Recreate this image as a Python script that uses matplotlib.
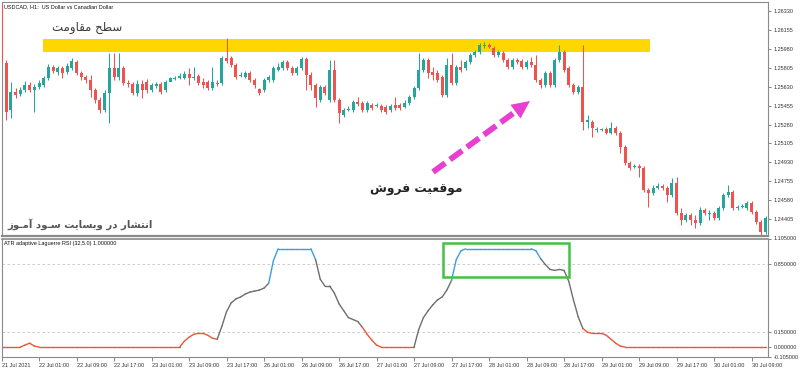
import numpy as np
import matplotlib
matplotlib.use("Agg")
import matplotlib.pyplot as plt
from matplotlib.collections import LineCollection
from matplotlib.patches import Rectangle, Polygon
from matplotlib.lines import Line2D
from matplotlib import font_manager
from matplotlib.ft2font import FT2Font

# ---------------- data ----------------
opens = [1.26386,
 1.25849, 1.25414, 1.25581, 1.25562, 1.25599, 1.25646, 1.25599, 1.25627, 1.25646, 1.25710,
 1.25812, 1.25766, 1.25803, 1.25766, 1.25803, 1.25858, 1.25757, 1.25720, 1.25692, 1.25599,
 1.25507, 1.25414, 1.25572, 1.25803, 1.25720, 1.25803, 1.25664, 1.25655, 1.25572, 1.25655,
 1.25673, 1.25599, 1.25636, 1.25655, 1.25599, 1.25673, 1.25701, 1.25710, 1.25710, 1.25747,
 1.25710, 1.25729, 1.25673, 1.25673, 1.25618, 1.25664, 1.25664, 1.25895, 1.25895, 1.25831,
 1.25729, 1.25720, 1.25757, 1.25692, 1.25609, 1.25599, 1.25692, 1.25692, 1.25784, 1.25803,
 1.25858, 1.25803, 1.25757, 1.25803, 1.25886, 1.25738, 1.25646, 1.25507, 1.25627, 1.25507,
 1.25784, 1.25507, 1.25368, 1.25414, 1.25414, 1.25488, 1.25479, 1.25414, 1.25461, 1.25451,
 1.25451, 1.25442, 1.25414, 1.25461, 1.25461, 1.25442, 1.25479, 1.25535, 1.25618, 1.25784,
 1.25877, 1.25766, 1.25757, 1.25720, 1.25553, 1.25831, 1.25664, 1.25812, 1.25803, 1.25858,
 1.25923, 1.25951, 1.26006, 1.26016, 1.25988, 1.25923, 1.25942, 1.25877, 1.25812, 1.25877,
 1.25868, 1.25812, 1.25858, 1.25831, 1.25692, 1.25646, 1.25757, 1.25646, 1.25877, 1.25951,
 1.25803, 1.25646, 1.25581, 1.25627, 1.25303, 1.25303, 1.25229, 1.25229, 1.25239, 1.25202,
 1.25248, 1.25202, 1.25073, 1.24926, 1.24887, 1.24896, 1.24878, 1.24674, 1.24647, 1.24693,
 1.24711, 1.24693, 1.24628, 1.24739, 1.24462, 1.24397, 1.24443, 1.24397, 1.24369, 1.24489,
 1.24452, 1.24462, 1.24415, 1.24508, 1.24628, 1.24656, 1.24508, 1.24517, 1.24508, 1.24554,
 1.24471, 1.24378, 1.24286]

closes = [1.25858,
 1.25396, 1.25581, 1.25553, 1.25599, 1.25646, 1.25599, 1.25627, 1.25664, 1.25710, 1.25812,
 1.25775, 1.25803, 1.25757, 1.25821, 1.25868, 1.25757, 1.25720, 1.25692, 1.25599, 1.25507,
 1.25414, 1.25572, 1.25803, 1.25720, 1.25803, 1.25664, 1.25655, 1.25572, 1.25655, 1.25599,
 1.25599, 1.25646, 1.25655, 1.25581, 1.25673, 1.25710, 1.25710, 1.25729, 1.25747, 1.25710,
 1.25720, 1.25664, 1.25646, 1.25618, 1.25673, 1.25655, 1.25895, 1.25868, 1.25831, 1.25720,
 1.25738, 1.25757, 1.25692, 1.25646, 1.25572, 1.25692, 1.25720, 1.25803, 1.25812, 1.25858,
 1.25803, 1.25757, 1.25803, 1.25886, 1.25738, 1.25646, 1.25525, 1.25627, 1.25572, 1.25784,
 1.25507, 1.25387, 1.25414, 1.25424, 1.25488, 1.25470, 1.25414, 1.25479, 1.25433, 1.25461,
 1.25414, 1.25396, 1.25451, 1.25433, 1.25433, 1.25479, 1.25535, 1.25618, 1.25784, 1.25877,
 1.25757, 1.25738, 1.25692, 1.25553, 1.25831, 1.25664, 1.25812, 1.25784, 1.25858, 1.25923,
 1.25951, 1.26016, 1.26016, 1.25997, 1.25923, 1.25951, 1.25877, 1.25812, 1.25877, 1.25858,
 1.25812, 1.25858, 1.25831, 1.25692, 1.25646, 1.25757, 1.25646, 1.25877, 1.25951, 1.25784,
 1.25646, 1.25581, 1.25627, 1.25303, 1.25322, 1.25248, 1.25239, 1.25239, 1.25202, 1.25248,
 1.25202, 1.25073, 1.24926, 1.24878, 1.24896, 1.24878, 1.24674, 1.24647, 1.24693, 1.24711,
 1.24693, 1.24628, 1.24739, 1.24462, 1.24397, 1.24443, 1.24397, 1.24369, 1.24489, 1.24462,
 1.24462, 1.24415, 1.24508, 1.24628, 1.24656, 1.24508, 1.24517, 1.24526, 1.24554, 1.24471,
 1.24378, 1.24286, 1.24415]

highs = [1.26413,
 1.25877, 1.25673, 1.25618, 1.25627, 1.25683, 1.25673, 1.25655, 1.25692, 1.25729, 1.25840,
 1.25831, 1.25821, 1.25821, 1.25849, 1.25895, 1.25877, 1.25775, 1.25738, 1.25738, 1.25618,
 1.25535, 1.25599, 1.25942, 1.25942, 1.25942, 1.25821, 1.25692, 1.25673, 1.25692, 1.25692,
 1.25701, 1.25664, 1.25673, 1.25673, 1.25692, 1.25720, 1.25729, 1.25757, 1.25775, 1.25803,
 1.25812, 1.25747, 1.25710, 1.25692, 1.25812, 1.25692, 1.25914, 1.26080, 1.25914, 1.25849,
 1.25766, 1.25775, 1.25775, 1.25710, 1.25618, 1.25710, 1.25738, 1.25821, 1.25849, 1.25877,
 1.25877, 1.25821, 1.25821, 1.25905, 1.25905, 1.25766, 1.25664, 1.25646, 1.25646, 1.25877,
 1.25877, 1.25525, 1.25433, 1.25451, 1.25507, 1.25535, 1.25498, 1.25498, 1.25479, 1.25479,
 1.25470, 1.25461, 1.25470, 1.25535, 1.25479, 1.25507, 1.25553, 1.25636, 1.25942, 1.25895,
 1.25895, 1.25812, 1.25784, 1.25738, 1.25895, 1.25942, 1.25831, 1.25877, 1.25877, 1.25942,
 1.25969, 1.26034, 1.26043, 1.26034, 1.26006, 1.25969, 1.25960, 1.25895, 1.25895, 1.25895,
 1.25886, 1.25877, 1.25905, 1.25923, 1.25710, 1.25775, 1.25775, 1.25895, 1.26016, 1.25969,
 1.25821, 1.25664, 1.25646, 1.26016, 1.25368, 1.25322, 1.25257, 1.25248, 1.25257, 1.25303,
 1.25266, 1.25220, 1.25091, 1.24944, 1.24915, 1.24915, 1.24896, 1.24693, 1.24721, 1.24739,
 1.24730, 1.24711, 1.24785, 1.24794, 1.24508, 1.24462, 1.24462, 1.24443, 1.24517, 1.24508,
 1.24489, 1.24480, 1.24526, 1.24647, 1.24721, 1.24674, 1.24536, 1.24545, 1.24573, 1.24573,
 1.24489, 1.24397, 1.24434]

lows = [1.25840,
 1.25322, 1.25340, 1.25525, 1.25544, 1.25581, 1.25581, 1.25396, 1.25609, 1.25627, 1.25692,
 1.25757, 1.25738, 1.25710, 1.25747, 1.25784, 1.25738, 1.25692, 1.25664, 1.25535, 1.25479,
 1.25387, 1.25396, 1.25294, 1.25692, 1.25692, 1.25646, 1.25627, 1.25553, 1.25544, 1.25525,
 1.25572, 1.25581, 1.25618, 1.25562, 1.25581, 1.25692, 1.25692, 1.25701, 1.25701, 1.25646,
 1.25692, 1.25646, 1.25618, 1.25599, 1.25599, 1.25636, 1.25646, 1.25849, 1.25812, 1.25701,
 1.25720, 1.25710, 1.25673, 1.25618, 1.25553, 1.25581, 1.25673, 1.25673, 1.25775, 1.25784,
 1.25784, 1.25738, 1.25738, 1.25784, 1.25599, 1.25599, 1.25442, 1.25488, 1.25553, 1.25488,
 1.25488, 1.25294, 1.25350, 1.25405, 1.25396, 1.25451, 1.25396, 1.25396, 1.25414, 1.25442,
 1.25396, 1.25377, 1.25396, 1.25414, 1.25414, 1.25433, 1.25461, 1.25516, 1.25599, 1.25766,
 1.25710, 1.25692, 1.25673, 1.25535, 1.25535, 1.25646, 1.25646, 1.25766, 1.25784, 1.25840,
 1.25905, 1.25932, 1.25988, 1.25988, 1.25905, 1.25905, 1.25858, 1.25794, 1.25794, 1.25840,
 1.25794, 1.25794, 1.25812, 1.25673, 1.25618, 1.25627, 1.25627, 1.25627, 1.25858, 1.25766,
 1.25627, 1.25562, 1.25562, 1.25229, 1.25248, 1.25166, 1.25211, 1.25220, 1.25192, 1.25192,
 1.25183, 1.25017, 1.24906, 1.24859, 1.24878, 1.24794, 1.24656, 1.24517, 1.24628, 1.24684,
 1.24674, 1.24563, 1.24610, 1.24443, 1.24351, 1.24378, 1.24351, 1.24323, 1.24351, 1.24443,
 1.24397, 1.24397, 1.24397, 1.24489, 1.24610, 1.24489, 1.24489, 1.24508, 1.24489, 1.24452,
 1.24360, 1.24258, 1.24267]

rsi_values = [0.0,
 0.0, 0.0, 0.0, 0.0, 0.02, 0.04, 0.01, 0.0, 0.0, 0.0,
 0.0, 0.0, 0.0, 0.0, 0.0, 0.0, 0.0, 0.0, 0.0, 0.0,
 0.0, 0.0, 0.0, 0.0, 0.0, 0.0, 0.0, 0.0, 0.0, 0.0,
 0.0, 0.0, 0.0, 0.0, 0.0, 0.0, 0.0, 0.0, 0.06, 0.10,
 0.13, 0.14, 0.14, 0.12, 0.09, 0.08, 0.21, 0.36, 0.45, 0.49,
 0.51, 0.54, 0.56, 0.57, 0.58, 0.60, 0.65, 0.88, 1.0, 1.0,
 1.0, 1.0, 1.0, 1.0, 1.0, 1.0, 0.89, 0.69, 0.62, 0.62,
 0.55, 0.44, 0.37, 0.30, 0.28, 0.26, 0.20, 0.13, 0.07, 0.02,
 0.0, 0.0, 0.0, 0.0, 0.0, 0.0, 0.0, 0.0, 0.18, 0.30,
 0.37, 0.43, 0.48, 0.51, 0.58, 0.68, 0.89, 0.98, 1.0, 1.0,
 1.0, 1.0, 1.0, 1.0, 1.0, 1.0, 1.0, 1.0, 1.0, 1.0,
 1.0, 1.0, 1.0, 0.98, 0.90, 0.84, 0.79, 0.78, 0.79, 0.78,
 0.67, 0.48, 0.31, 0.19, 0.15, 0.14, 0.14, 0.14, 0.12, 0.08,
 0.04, 0.01, 0.0, 0.0, 0.0, 0.0, 0.0, 0.0, 0.0, 0.0,
 0.0, 0.0, 0.0, 0.0, 0.0, 0.0, 0.0, 0.0, 0.0, 0.0,
 0.0, 0.0, 0.0, 0.0, 0.0, 0.0, 0.0, 0.0, 0.0, 0.0,
 0.0, 0.0, 0.0]

time_labels = ['21 Jul 2021', '22 Jul 01:00', '22 Jul 09:00', '22 Jul 17:00', '23 Jul 01:00',
               '23 Jul 09:00', '23 Jul 17:00', '26 Jul 01:00', '26 Jul 09:00', '26 Jul 17:00',
               '27 Jul 01:00', '27 Jul 09:00', '27 Jul 17:00', '28 Jul 01:00', '28 Jul 09:00',
               '28 Jul 17:00', '29 Jul 01:00', '29 Jul 09:00', '29 Jul 17:00', '30 Jul 01:00',
               '30 Jul 09:00']
bars_per_label = 8
price_ticks = [1.26330, 1.26155, 1.25980, 1.25805, 1.25630, 1.25455, 1.25280,
               1.25105, 1.24930, 1.24755, 1.24580, 1.24405]
rsi_ticks = [1.105, 0.85, 0.15, 0.0, -0.105]
rsi_levels = [0.85, 0.15]
resistance_zone = (1.25950, 1.26071)
resistance_bars = (8.9, 138.3)
highlight_bars = (94.2, 121.0)
highlight_vals = (0.711, 1.056)

title = "USDCAD, H1:  US Dollar vs Canadian Dollar"
ind_title = "ATR adaptive Laguerre RSI (32,5.0) 1.000000"
txt_resist = "سطح مقاومت"
txt_sell = "موقعیت فروش"
txt_site = "انتشار در وبسایت سـود آمـوز"

# ---------------- Arabic shaping (no complex text layout in matplotlib) ----------------
ar_font = "DejaVu Sans"
ftf = FT2Font(font_manager.findfont(ar_font))
persian_yeh_ok = ftf.get_char_index(0xFBFE) != 0
yeh_forms = (0xFBFC, 0xFBFD, 0xFBFE, 0xFBFF) if persian_yeh_ok else (0xFEEF, 0xFEF0, 0xFEF3, 0xFEF4)
FORMS = {
    'ا': (0xFE8D, 0xFE8E), 'آ': (0xFE81, 0xFE82), 'د': (0xFEA9, 0xFEAA), 'ر': (0xFEAD, 0xFEAE),
    'ز': (0xFEAF, 0xFEB0), 'و': (0xFEED, 0xFEEE),
    'ب': (0xFE8F, 0xFE90, 0xFE91, 0xFE92), 'ت': (0xFE95, 0xFE96, 0xFE97, 0xFE98),
    'ح': (0xFEA1, 0xFEA2, 0xFEA3, 0xFEA4), 'س': (0xFEB1, 0xFEB2, 0xFEB3, 0xFEB4),
    'ش': (0xFEB5, 0xFEB6, 0xFEB7, 0xFEB8), 'ط': (0xFEC1, 0xFEC2, 0xFEC3, 0xFEC4),
    'ع': (0xFEC9, 0xFECA, 0xFECB, 0xFECC), 'ف': (0xFED1, 0xFED2, 0xFED3, 0xFED4),
    'ق': (0xFED5, 0xFED6, 0xFED7, 0xFED8), 'م': (0xFEE1, 0xFEE2, 0xFEE3, 0xFEE4),
    'ن': (0xFEE5, 0xFEE6, 0xFEE7, 0xFEE8), 'ی': yeh_forms,
    'ـ': (0x640, 0x640, 0x640, 0x640),
}


def shape(text):
    out = []
    n = len(text)
    dual = lambda ch: ch in FORMS and len(FORMS[ch]) == 4
    for i, ch in enumerate(text):
        if ch not in FORMS:
            out.append(ch)
            continue
        f = FORMS[ch]
        prev = text[i - 1] if i > 0 else ''
        nxt = text[i + 1] if i < n - 1 else ''
        cp = dual(prev)
        cn = len(f) == 4 and nxt in FORMS
        if len(f) == 2:
            g = f[1] if cp else f[0]
        elif cp and cn:
            g = f[3]
        elif cp:
            g = f[1]
        elif cn:
            g = f[2]
        else:
            g = f[0]
        out.append(chr(g))
    return ''.join(reversed(out))


# ---------------- figure ----------------
W, H = 800, 369
fig = plt.figure(figsize=(W / 100, H / 100), dpi=100)
fig.patch.set_facecolor('white')


def fx(px):
    return px / W


def fy(py):
    return 1 - py / H


small = dict(family=['Liberation Sans', 'DejaVu Sans'], fontsize=4.0)
frame_col = '#8a8a8a'

ax = fig.add_axes([fx(1.5), fy(236), (768 - 1.5) / W, (236 - 1.7) / H])
ax2 = fig.add_axes([fx(1.5), fy(357.4), (768 - 1.5) / W, (357.4 - 238.5) / H], sharex=ax)

green, red = '#26A69A', '#EF5350'
o = np.array(opens); c = np.array(closes); h = np.array(highs); l = np.array(lows)
x = np.arange(len(o))
cols = [green if cc >= oo else red for oo, cc in zip(o, c)]
ax.vlines(x, l, h, colors=cols, lw=0.75, zorder=2)
ax.bar(x, np.maximum(np.abs(c - o), 0.00008), bottom=np.minimum(o, c), width=0.64,
       color=cols, linewidth=0, zorder=3)
ax.add_patch(Rectangle((resistance_bars[0], resistance_zone[0]),
                       resistance_bars[1] - resistance_bars[0],
                       resistance_zone[1] - resistance_zone[0],
                       facecolor='#FFD700', edgecolor='none', zorder=1))

ax.set_xlim(0.04, 163.5)
ax.set_ylim(1.24249, 1.26416)
ax.yaxis.tick_right()
ax.set_yticks(price_ticks)
ax.set_yticklabels([f"{t:.5f}" for t in price_ticks], **small, color='#333333')
ax.tick_params(axis='y', length=2.5, width=0.5, color='#555555', pad=1.5)
ax.tick_params(axis='x', bottom=False, labelbottom=False)
for s in ax.spines.values():
    s.set_color(frame_col); s.set_linewidth(0.8)
ax.spines['bottom'].set_linewidth(1.6)

# indicator
v = np.array(rsi_values)
segs, scol = [], []
for k in range(1, len(v)):
    segs.append([(k - 1, v[k - 1]), (k, v[k])])
    if v[k] >= 0.85:
        scol.append('#3D9DE0')
    elif v[k] <= 0.15:
        scol.append('#E8573A')
    else:
        scol.append('#6E6E6E')
ax2.add_collection(LineCollection(segs, colors=scol, linewidths=1.0, capstyle='round'))
for lv in rsi_levels:
    ax2.axhline(lv, color='#c4c4c4', lw=0.6, ls=(0, (3, 3)), zorder=0)
ax2.add_patch(Rectangle((highlight_bars[0], highlight_vals[0]),
                        highlight_bars[1] - highlight_bars[0],
                        highlight_vals[1] - highlight_vals[0],
                        fill=False, edgecolor='#45C045', lw=1.8, zorder=4))
ax2.set_ylim(-0.105, 1.105)
ax2.yaxis.tick_right()
ax2.set_yticks(rsi_ticks)
ax2.set_yticklabels([f"{t:.6f}" for t in rsi_ticks], **small, color='#333333')
ax2.tick_params(axis='y', length=2.5, width=0.5, color='#555555', pad=1.5)
ax2.set_xticks([j * bars_per_label for j in range(len(time_labels))])
ax2.set_xticklabels(time_labels, **small, color='#333333')
for lbl in ax2.get_xticklabels():
    lbl.set_ha('left')
ax2.tick_params(axis='x', length=3, width=0.5, color='#555555', pad=1.0)
for s in ax2.spines.values():
    s.set_color(frame_col); s.set_linewidth(0.8)
ax2.spines['top'].set_linewidth(1.2)

# texts
fig.text(fx(4), fy(7), title, ha='left', va='center', **small, color='#111111')
fig.text(fx(3.5), fy(244), ind_title, ha='left', va='center', **small, color='#111111')
fig.text(fx(87), fy(28), shape(txt_resist), ha='center', va='center',
         family=[ar_font], fontsize=8.5, color='#3a3a3a')
fig.text(fx(416), fy(190), shape(txt_sell), ha='center', va='center',
         family=[ar_font], fontsize=8.8, fontweight='bold', color='#222222')
fig.text(fx(80.5), fy(224), shape(txt_site), ha='center', va='center',
         family=[ar_font], fontsize=7.3, fontweight='bold', color='#555555')

# dashed magenta arrow
mag = '#E83FD1'
tail = (433, 172); tip = (530, 101)
d = np.array(tip, float) - np.array(tail, float)
u = d / np.linalg.norm(d)
pn = np.array([-u[1], u[0]])
head_len, head_half = 18, 8.5
base = np.array(tip) - u * head_len
fig.add_artist(Line2D([fx(tail[0]), fx(base[0] + u[0] * 2)], [fy(tail[1]), fy(base[1] + u[1] * 2)],
                      transform=fig.transFigure, lw=4.2, color=mag,
                      dashes=(2.6, 1.0), dash_capstyle='butt'))
pts = [tip, tuple(base + pn * head_half), tuple(base - pn * head_half)]
fig.add_artist(Polygon([(fx(px), fy(py)) for px, py in pts], closed=True,
                       transform=fig.transFigure, facecolor=mag, edgecolor='none'))

fig.savefig('out.png', dpi=100)
